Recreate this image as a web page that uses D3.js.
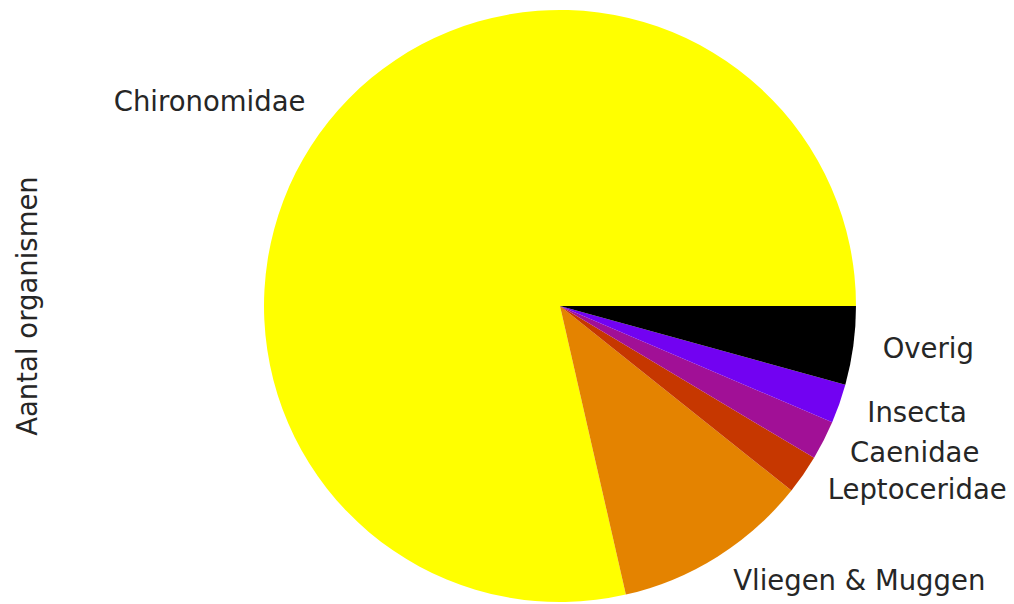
<!DOCTYPE html>
<html>
<head>
<meta charset="UTF-8">
<title>Aantal organismen</title>
<script src="https://cdn.jsdelivr.net/npm/d3@7"></script>
<style>
	body { margin: 0; background: #fff; }
	text { font-family: "DejaVu Sans", sans-serif; fill: #262626; }
</style>
</head>
<body>
<div id="chart"></div>
<script>
var categories = ["Chironomidae", "Vliegen & Muggen", "Leptoceridae", "Caenidae", "Insecta", "Overig"];
var counts = [110, 15, 3, 3, 3, 6];
var colors = ["#ffff00", "#e48300", "#c63700", "#a11096", "#7202f2", "#000000"];
var yLabel = "Aantal organismen";

var W = 1014, H = 604;
var cx = 560, cy = 306, R = 296;

var svg = d3.select("#chart").append("svg")
	.attr("width", W)
	.attr("height", H);

// matplotlib style: start at 3 o'clock, go counterclockwise
var pie = d3.pie()
	.sort(null)
	.startAngle(Math.PI / 2)
	.endAngle(Math.PI / 2 - 2 * Math.PI);

var arcs = pie(counts);
var arc = d3.arc().innerRadius(0).outerRadius(R);

var color = d3.scaleOrdinal().domain(categories).range(colors);

var g = svg.append("g").attr("transform", "translate(" + cx + "," + cy + ")");

g.selectAll("path")
	.data(arcs)
	.enter().append("path")
	.attr("d", arc)
	.attr("fill", function(d, i){ return color(categories[i]); });

function mid(d){ return (d.startAngle + d.endAngle) / 2; }

g.selectAll("text.lbl")
	.data(arcs)
	.enter().append("text")
	.attr("class", "lbl")
	.attr("x", function(d){ return R * 1.1 * Math.sin(mid(d)); })
	.attr("y", function(d){ return -R * 1.1 * Math.cos(mid(d)) - 2; })
	.attr("text-anchor", function(d){ return Math.sin(mid(d)) > 0 ? "start" : "end"; })
	.attr("dominant-baseline", "central")
	.style("font-size", "27.5px")
	.text(function(d, i){ return categories[i]; });

svg.append("text")
	.attr("transform", "translate(27," + cy + ") rotate(-90)")
	.attr("text-anchor", "middle")
	.attr("dominant-baseline", "central")
	.style("font-size", "27.5px")
	.text(yLabel);
</script>
</body>
</html>
